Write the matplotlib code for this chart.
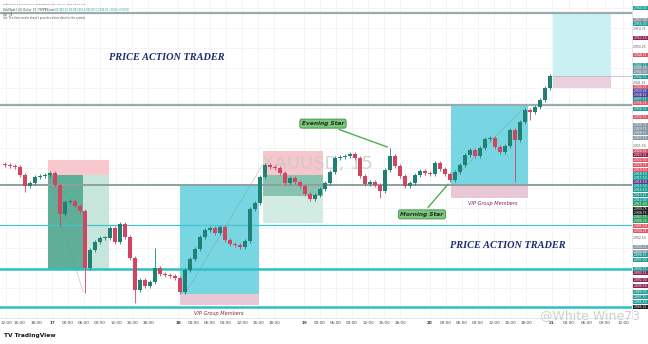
import numpy as np
import matplotlib
matplotlib.use("Agg")
from matplotlib import pyplot as plt
from matplotlib.patches import Rectangle

# XAUUSD 15m closes (one bar per ~5px of the screenshot)
first_open = 2921.0
closes = [
    2920.75, 2920.5, 2920.25, 2918.25, 2915.5, 2916.25, 2917.75, 2918.0, 2918.25, 2918.75,
    2915.75, 2908.5, 2911.5, 2911.75, 2910.5, 2909.25, 2895.0, 2899.5, 2901.5, 2902.5,
    2902.5, 2905.0, 2901.5, 2906.0, 2902.75, 2897.5, 2889.5, 2892.0, 2890.5, 2891.5,
    2895.0, 2893.5, 2893.25, 2893.0, 2892.5, 2889.0, 2894.5, 2897.25, 2899.75, 2902.75,
    2904.5, 2905.0, 2903.75, 2905.25, 2902.0, 2901.0, 2900.75, 2900.25, 2901.75, 2909.75,
    2911.25, 2917.75, 2920.75, 2920.25, 2920.0, 2918.75, 2916.25, 2917.5, 2916.5, 2915.5,
    2913.5, 2912.25, 2913.25, 2914.75, 2916.25, 2919.0, 2922.5, 2922.75, 2923.0, 2923.5,
    2922.5, 2918.0, 2916.0, 2916.5, 2915.75, 2914.25, 2919.5, 2923.0, 2920.5, 2918.0,
    2915.5, 2916.25, 2918.25, 2919.25, 2918.75, 2918.5, 2921.25, 2919.75, 2918.5, 2917.0,
    2919.0, 2920.75, 2923.25, 2924.5, 2923.0, 2925.0, 2927.25, 2927.5, 2925.25, 2924.0,
    2925.5, 2929.5, 2927.0, 2931.5, 2934.5, 2934.0, 2935.25, 2937.0, 2940.0, 2943.0,
]
long_lows = {4: 2914.0, 11: 2905.5, 16: 2888.75, 26: 2886.25, 75: 2912.5, 102: 2916.5, 105: 2932.0}
long_highs = {30: 2900.0, 77: 2925.0}

# horizontal levels (price, colour, width)
levels = [2958.75, 2935.75, 2915.75, 2905.75, 2894.75, 2885.25]
level_colors = ["#9aabab", "#9aabab", "#8fa0a0", "#45c6cf", "#2ec0c9", "#2ec0c9"]
level_widths = [1.6, 1.6, 1.4, 0.9, 1.8, 1.8]

# drawn rectangles: (x0, x1, price_top, price_bottom, colour)
boxes = [
    (8.6, 20.8, 2922.0, 2918.25, "#f8c8ce"),
    (8.6, 15.6, 2918.25, 2894.5, "#5fae98"),
    (15.6, 20.8, 2918.25, 2894.5, "#c6e6dc"),
    (35.0, 50.8, 2915.5, 2888.5, "#78d6e3"),
    (35.0, 50.8, 2888.5, 2885.75, "#e8c8d7"),
    (51.6, 63.6, 2924.25, 2918.25, "#f6c6cc"),
    (51.6, 63.6, 2918.25, 2913.0, "#86c4b0"),
    (51.6, 63.6, 2913.0, 2906.25, "#d2ebe3"),
    (89.2, 104.6, 2936.0, 2915.5, "#78d6e3"),
    (89.2, 104.6, 2915.5, 2912.5, "#e8c8d7"),
    (109.6, 121.2, 2958.75, 2943.0, "#cbf0f4"),
    (109.6, 121.2, 2943.0, 2940.0, "#ebd1dd"),
]
# faint lines of the position tools
tool_lines = [
    ((8.6, 15.6), (2918.25, 2889.0)),
    ((36.0, 51.6), (2888.5, 2921.0)),
    ((89.0, 104.6), (2916.5, 2936.0)),
]

tick_pos = [0.3, 2.8, 6.2, 9.4, 12.6, 15.8, 19.0, 22.2, 25.4, 28.6,
            34.6, 37.8, 41.0, 44.2, 47.4, 50.6, 53.8,
            59.8, 63.0, 66.2, 69.4, 72.6, 75.8, 79.0,
            85.0, 88.2, 91.4, 94.6, 97.8, 101.0, 104.2,
            109.4, 112.8, 116.4, 120.0, 123.6]
tick_labels = ["12:00", "15:00", "18:00", "17", "03:00", "06:00", "09:00", "12:00", "15:00", "18:00",
               "18", "03:00", "06:00", "09:00", "12:00", "15:00", "18:00",
               "19", "03:00", "06:00", "09:00", "12:00", "15:00", "18:00",
               "20", "03:00", "06:00", "09:00", "12:00", "15:00", "18:00",
               "21", "03:00", "06:00", "09:00", "12:00"]

# right axis price tags
tag_prices = [2960.0, 2957.0, 2956.0, 2954.75, 2952.5, 2950.25, 2948.25, 2945.75, 2945.0, 2944.0,
              2942.75, 2941.25, 2940.25, 2939.25, 2938.25, 2937.25, 2936.25, 2934.75, 2932.75, 2930.75,
              2929.75, 2928.75, 2927.5, 2925.5, 2924.25, 2923.25, 2922.0, 2920.75, 2919.5, 2918.5,
              2917.5, 2916.5, 2915.5, 2914.5, 2913.25, 2912.0, 2911.0, 2909.75, 2908.75, 2907.75,
              2906.75, 2905.5, 2904.25, 2902.5, 2900.25, 2899.0, 2898.25, 2897.0, 2894.75, 2893.75,
              2892.0, 2890.5, 2889.0, 2887.75, 2886.5, 2885.25]
tag_kinds = ["t", "g", "t", "n", "m", "n", "r", "t", "g", "g",
             "t", "n", "r", "b", "p", "t", "r", "t", "r", "g",
             "g", "g", "g", "n", "r", "m", "r", "r", "r", "t",
             "t", "p", "t", "t", "t", "t", "G", "k", "k", "G",
             "G", "r", "r", "n", "g", "g", "t", "t", "t", "m",
             "m", "m", "t", "t", "t", "k"]
tag_colors = {"t": "#1f9c93", "g": "#8796a3", "m": "#8a2456", "r": "#e05567", "b": "#3f51b5",
              "p": "#5e3a91", "k": "#202020", "G": "#2e9c5a", "n": None}

fig = plt.figure(figsize=(6.48, 3.44), dpi=100)
fig.patch.set_facecolor("white")
ax = fig.add_axes([0, 26 / 344, 632 / 648, 318 / 344])
ax.set_xlim(-1, 125.4)
ax.set_ylim(2882.5, 2962)

# grid
for t in tick_pos:
    ax.axvline(t, color="#f1f3f7", lw=0.6, zorder=0)
for p in np.arange(2885, 2962, 5):
    ax.axhline(p, color="#f1f3f7", lw=0.6, zorder=0)

ax.text(62.4, 2921.0, "XAUUSD, 15", fontsize=13, color="#c9c9c9", alpha=0.8,
        ha="center", va="center", zorder=1.8)

for x0, x1, top, bot, col in boxes:
    ax.add_patch(Rectangle((x0, bot), x1 - x0, top - bot, facecolor=col, edgecolor="none", zorder=1))
for xs, ys in tool_lines:
    ax.plot(xs, ys, color="#7f8f95", lw=0.4, alpha=0.6, zorder=1.5)

for p, c, w in zip(levels, level_colors, level_widths):
    ax.axhline(p, color=c, lw=w, zorder=2)
ax.plot([109.6, 125.4], [2943.0, 2943.0], color="#b5b5b5", lw=0.5, zorder=2)

# candles
opens = [first_open] + closes[:-1]
x = np.arange(len(closes))
up_col, dn_col = "#1f8073", "#d0455f"
wick = 0.5
for i, (o, c) in enumerate(zip(opens, closes)):
    col = up_col if c >= o else dn_col
    hi = long_highs.get(i, max(o, c) + wick)
    lo = long_lows.get(i, min(o, c) - wick)
    ax.vlines(x[i], lo, hi, color=col, lw=0.6, zorder=3)
    ax.bar(x[i], max(abs(c - o), 0.3), bottom=min(o, c), width=0.8, color=col, zorder=3.2)

# annotations
lab_box = dict(boxstyle="round,pad=0.35", fc="#7cc67f", ec="#3e8e41", lw=0.6)
ax.annotate("Evening Star", xy=(77.0, 2925.0), xytext=(63.6, 2931.1), fontsize=4.2,
            fontweight="bold", fontstyle="italic", color="#1c2e1c", ha="center", va="center",
            bbox=lab_box, arrowprops=dict(arrowstyle="-", color="#4caf50", lw=1.0), zorder=5)
ax.annotate("Morning Star", xy=(89.0, 2916.5), xytext=(83.4, 2908.4), fontsize=4.2,
            fontweight="bold", fontstyle="italic", color="#1c2e1c", ha="center", va="center",
            bbox=lab_box, arrowprops=dict(arrowstyle="-", color="#4caf50", lw=1.0), zorder=5)

ax.text(42.8, 2883.75, "VIP Group Members", fontsize=3.6, fontstyle="italic", color="#8b2346",
        ha="center", va="center", zorder=5)
ax.text(97.6, 2911.25, "VIP Group Members", fontsize=3.6, fontstyle="italic", color="#8b2346",
        ha="center", va="center", zorder=5)

for tx, ty in [(166.5, 58), (507.5, 246)]:
    ax.text(tx / 632, 1 - ty / 318, "PRICE ACTION TRADER", transform=ax.transAxes,
            fontsize=7.4, fontweight="bold", fontstyle="italic", family="Liberation Serif",
            color="#1b2b6e", ha="center", va="center", zorder=5)

ax.set_xticks(tick_pos)
ax.set_xticklabels(tick_labels)
for lab in ax.get_xticklabels():
    if ":" not in lab.get_text():
        lab.set_fontweight("bold")
ax.tick_params(axis="x", length=0, labelsize=3.0, labelcolor="#444444", pad=2.5)
ax.set_yticks([])
for s in ["top", "left"]:
    ax.spines[s].set_visible(False)
for s in ["bottom", "right"]:
    ax.spines[s].set_color("#e0e3eb")
    ax.spines[s].set_linewidth(0.6)

# price scale tags
ax2 = fig.add_axes([632 / 648, 26 / 344, 16 / 648, 318 / 344])
ax2.set_xlim(0, 1)
ax2.set_ylim(2882.5, 2962)
ax2.axis("off")
for p, k in zip(tag_prices, tag_kinds):
    col = tag_colors[k]
    if col is None:
        ax2.text(0.5, p, f"{p:,.2f}", fontsize=2.2, color="#555555", ha="center", va="center")
    else:
        ax2.add_patch(Rectangle((0.05, p - 0.5), 0.95, 1.0, facecolor=col, edgecolor="none"))
        ax2.text(0.52, p, f"{p:,.2f}", fontsize=2.2, color="white", ha="center", va="center")

# header / footer text
fig.text(3 / 648, 1 - 4 / 344, "whitewine73 published on TradingView.com, Feb 21, 2025 09:29 UTC",
         fontsize=1.7, color="#666666", va="center")
fig.text(3 / 648, 1 - 10 / 344, "Gold Spot / U.S. Dollar · 15 · FXOPEN.com", fontsize=1.8,
         color="#333333", va="center")
fig.text(55 / 648, 1 - 10 / 344, "O2,942.53 H2,943.40 L2,942.05 C2,943.02 +0.50 (+0.02%)",
         fontsize=1.8, color="#1f9c93", va="center")
fig.text(3 / 648, 1 - 14.5 / 344, "Vol · 15", fontsize=1.8, color="#333333", va="center")
fig.text(3 / 648, 1 - 18.5 / 344, "Vol: The data vendor doesn't provide volume data for this symbol.",
         fontsize=1.8, color="#555555", va="center")

fig.text(540 / 648, 1 - 316 / 344, "@White Wine73", fontsize=9, color="#cfcfcf", va="center")
fig.text(4 / 648, 1 - 336 / 344, "TV TradingView", fontsize=4.2, fontweight="bold",
         color="#131722", va="center")

fig.savefig("out.png", dpi=100)
